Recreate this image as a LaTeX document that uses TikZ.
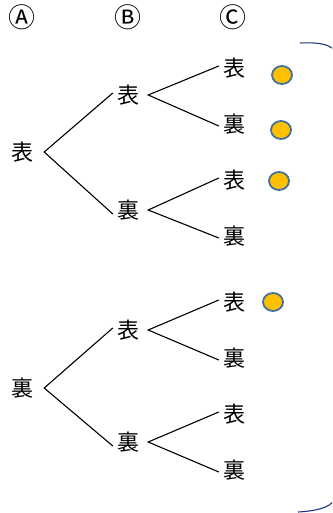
\documentclass[tikz,border=0pt]{standalone}
\usepackage{fontspec}
\usetikzlibrary{shapes.geometric}
\newfontfamily\cjk{Noto Sans CJK JP}
\begin{document}
\begin{tikzpicture}[x=1pt,y=-1pt,
  kan/.style={font=\cjk\fontsize{22}{22}\selectfont, inner sep=0pt},
  hdr/.style={font=\cjk\fontsize{27}{27}\selectfont, inner sep=0pt},
  br/.style={line width=1.1pt},
  dot/.style={ellipse, minimum width=20pt, minimum height=18pt, inner sep=0pt, fill={rgb,255:red,255;green,192;blue,0}, draw={rgb,255:red,65;green,113;blue,156}, line width=1.8pt},
  brk/.style={draw={rgb,255:red,31;green,56;blue,120}, line width=1.1pt}]
\useasboundingbox (0,0) rectangle (332,513);
\node[hdr] (hA) at (22,17) {Ⓐ};
\node[hdr] (hB) at (128,17) {Ⓑ};
\node[hdr] (hC) at (233,17) {Ⓒ};
% level 1
\node[kan] (a1) at (22,152) {表};
\node[kan] (a2) at (22,388) {裏};
% level 2
\node[kan] (b1) at (128,95) {表};
\node[kan] (b2) at (128,210) {裏};
\node[kan] (b3) at (128,330) {表};
\node[kan] (b4) at (128,442) {裏};
% level 3
\node[kan] (c1) at (234,68) {表};
\node[kan] (c2) at (234,124) {裏};
\node[kan] (c3) at (234,180) {表};
\node[kan] (c4) at (234,236) {裏};
\node[kan] (c5) at (234,302) {表};
\node[kan] (c6) at (234,358) {裏};
\node[kan] (c7) at (234,414) {表};
\node[kan] (c8) at (234,470) {裏};
% connectors
\foreach \p/\q/\r in {a1/b1/b2, a2/b3/b4}{
  \coordinate (\p v) at ([xshift=11pt]\p.east);
  \draw[br] ([xshift=-4pt,yshift=2pt]\q.west) -- (\p v) -- ([xshift=-4pt,yshift=-4pt]\r.west);
}
\foreach \p/\q/\r in {b1/c1/c2, b2/c3/c4, b3/c5/c6, b4/c7/c8}{
  \coordinate (\p v) at ([xshift=9pt]\p.east);
  \draw[br] ([xshift=-4pt,yshift=2pt]\q.west) -- (\p v) -- ([xshift=-4pt,yshift=-2pt]\r.west);
}
% circles
\node[dot] (d1) at (282,75) {};
\node[dot] (d2) at (281,130) {};
\node[dot] (d3) at (279,181) {};
\node[dot] (d4) at (273,302) {};
% bracket (mostly outside the frame)
\begin{scope}
\clip (0,0) rectangle (332,513);
\draw[brk] (300,43) .. controls (320,42) and (330,45) .. (334,50) -- (334,500) .. controls (330,508) and (315,511) .. (298,512);
\end{scope}
\end{tikzpicture}
\end{document}
